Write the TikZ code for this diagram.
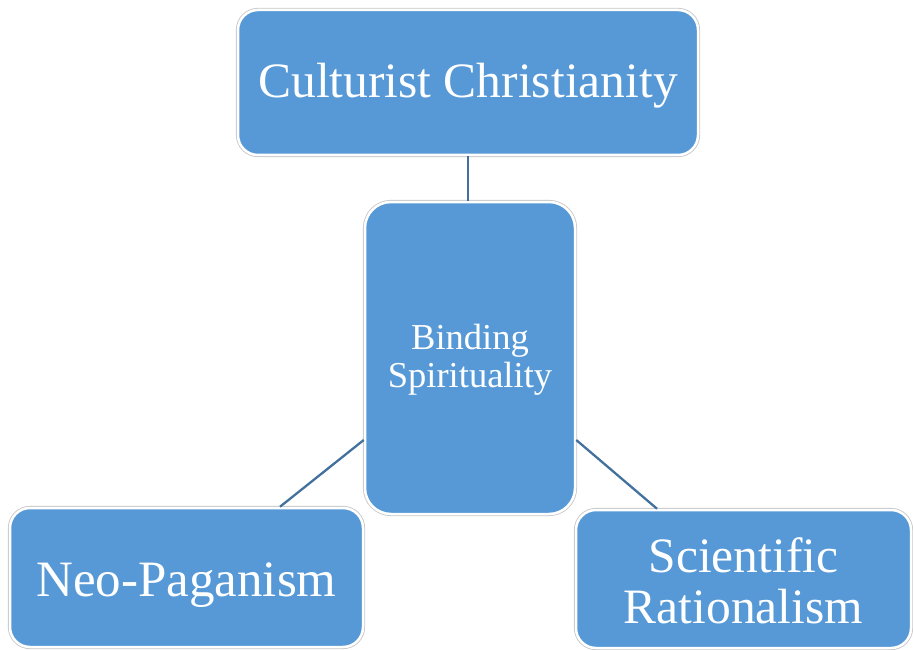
\documentclass[tikz,border=0pt]{standalone}
\usepackage{fontspec}
\setmainfont{Liberation Serif}
\usetikzlibrary{calc}
\definecolor{boxblue}{HTML}{5699D6}
\definecolor{linkblue}{HTML}{41719C}
\newcommand{\shiftln}[2]{\raisebox{#1}[\height][\depth]{#2}}
\tikzset{
  box/.style={rectangle, rounded corners=20pt, fill=boxblue, draw=white, line width=2.5pt,
    preaction={draw=black!22, line width=4.2pt},
    text=white, align=center, inner sep=0pt},
  link/.style={draw=linkblue, line width=2.3pt}
}
\begin{document}
\begin{tikzpicture}[x=1pt,y=-1pt]
\useasboundingbox (0,0) rectangle (913,650);
\node[box, minimum width=460pt, minimum height=145pt, font=\fontsize{49.5}{50}\selectfont]
  (top) at (468,82.5) {\shiftln{-3pt}{Culturist Christianity}};
\node[box, rounded corners=26pt, minimum width=210pt, minimum height=312pt, font=\fontsize{36.5}{37.5}\selectfont]
  (mid) at (470,358) {\shiftln{-2pt}{Binding}\\\shiftln{-2pt}{Spirituality}};
\node[box, minimum width=353pt, minimum height=139pt, font=\fontsize{51}{51}\selectfont]
  (left) at (186.5,577.5) {\shiftln{-7.5pt}{Neo-Paganism}};
\node[box, minimum width=335pt, minimum height=138pt, font=\fontsize{49.5}{51}\selectfont]
  (right) at (743.5,579) {\shiftln{-2pt}{Scientific}\\\shiftln{-2pt}{Rationalism}};
\draw[link] (top.south) -- (top.south |- mid.north);
\draw[link] ([yshift=-82pt]mid.west) -- ([xshift=93.5pt]left.north);
\draw[link] ([yshift=-82pt]mid.east) -- ([xshift=-86.5pt]right.north);
\end{tikzpicture}
\end{document}
